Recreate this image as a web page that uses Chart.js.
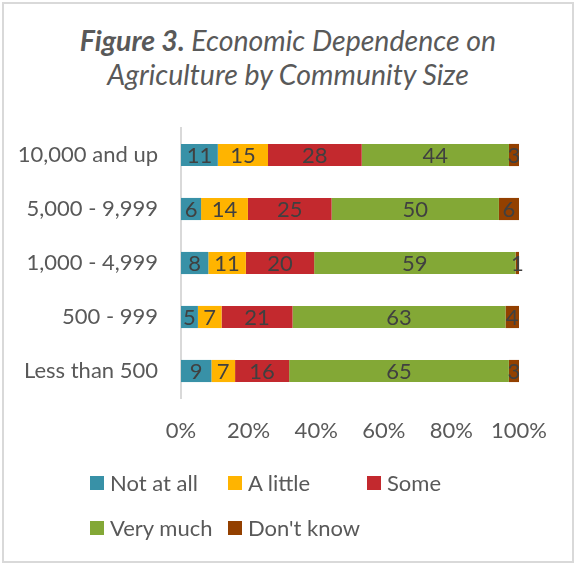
<!DOCTYPE html>
<html>
<head>
<meta charset="utf-8">
<script src="https://cdn.jsdelivr.net/npm/chart.js@4/dist/chart.umd.min.js"></script>
<style>
  html, body { margin: 0; padding: 0; background: #fff; }
  #wrap { position: relative; width: 576px; height: 569px; overflow: hidden; font-family: Lato, sans-serif; }
  #frame { position: absolute; left: 2px; top: 2px; width: 572px; height: 561px; box-sizing: border-box; border: 2px solid #d9d9d9; }
  #title { position: absolute; left: 0; top: 23px; width: 576px; text-align: center; color: #595959;
           font-size: 28.5px; line-height: 34px; font-style: italic; }
  #chart { position: absolute; left: 0; top: 0; }
  #legend { position: absolute; left: 90px; top: 460px; display: grid; grid-template-columns: 138px 139px 139px;
            grid-auto-rows: 45px; color: #595959; font-size: 22px; }
  #legend div { display: flex; align-items: center; white-space: nowrap; }
  #legend span.box { display: inline-block; width: 14px; height: 14px; margin-right: 6px; }
</style>
</head>
<body>
<div id="wrap">
  <div id="frame"></div>
  <div id="title"><b>Figure 3.</b> Economic Dependence on<br>Agriculture by Community Size</div>
  <canvas id="chart" width="576" height="569"></canvas>
  <div id="legend"></div>
</div>
<script>
// community size categories, top to bottom
const categories = ['10,000 and up', '5,000 - 9,999', '1,000 - 4,999', '500 - 999', 'Less than 500'];
const seriesNames = ['Not at all', 'A little', 'Some', 'Very much', "Don't know"];
const colors = ['#3891A7', '#FFB400', '#C3292E', '#83A836', '#934000'];

// percent values per series, same order as categories
const notAtAll = [11, 6, 8, 5, 9];
const aLittle = [15, 14, 11, 7, 7];
const some = [28, 25, 20, 21, 16];
const veryMuch = [44, 50, 59, 63, 65];
const dontKnow = [3, 6, 1, 4, 3];
const xTicks = [0, 20, 40, 60, 80, 100];

const series = [notAtAll, aLittle, some, veryMuch, dontKnow];

// 100% stacked: scale each row to its total
const rowTotals = categories.map((c, i) => series.reduce((s, arr) => s + arr[i], 0));

const datasets = series.map((arr, k) => ({
    label: seriesNames[k],
    data: arr.map((v, i) => v / rowTotals[i] * 100),
    raw: arr,
    backgroundColor: colors[k],
    borderWidth: 0,
    barPercentage: 0.41,
    categoryPercentage: 1
}));

// value labels in the middle of each segment
const valueLabels = {
    id: 'valueLabels',
    afterDatasetsDraw(chart) {
        const ctx = chart.ctx;
        ctx.save();
        ctx.font = '22px Lato';
        ctx.fillStyle = '#404040';
        ctx.textAlign = 'center';
        ctx.textBaseline = 'middle';
        chart.data.datasets.forEach((ds, k) => {
            chart.getDatasetMeta(k).data.forEach((bar, i) => {
                ctx.fillText(String(ds.raw[i]), (bar.x + bar.base) / 2, bar.y + 1);
            });
        });
        ctx.restore();
    }
};

new Chart(document.getElementById('chart'), {
    type: 'bar',
    data: { labels: categories, datasets: datasets },
    options: {
        indexAxis: 'y',
        responsive: false,
        animation: false,
        devicePixelRatio: 1,
        layout: { padding: { top: 128, bottom: 111, left: 0, right: 57 } },
        plugins: {
            legend: { display: false },
            title: { display: false },
            tooltip: { enabled: false }
        },
        scales: {
            x: {
                stacked: true,
                min: 0,
                max: 100,
                afterFit: s => { s.height = 60; },
                afterBuildTicks: s => { s.ticks = xTicks.map(v => ({ value: v })); },
                grid: { display: false, drawTicks: false },
                border: { display: false },
                ticks: {
                    padding: 20,
                    color: '#595959',
                    font: { family: 'Lato', size: 22 },
                    callback: v => v + '%'
                }
            },
            y: {
                stacked: true,
                afterFit: s => { s.width = 181; },
                grid: { display: true, color: 'rgba(0,0,0,0)', drawTicks: false },
                border: { display: true, color: '#d9d9d9', width: 2 },
                ticks: {
                    padding: 23,
                    color: '#595959',
                    font: { family: 'Lato', size: 22 }
                }
            }
        }
    },
    plugins: [valueLabels]
});

// legend laid out in three columns like the original
const legend = document.getElementById('legend');
seriesNames.forEach((name, k) => {
    const item = document.createElement('div');
    item.innerHTML = '<span class="box" style="background:' + colors[k] + '"></span>' + name;
    legend.appendChild(item);
});
</script>
</body>
</html>
